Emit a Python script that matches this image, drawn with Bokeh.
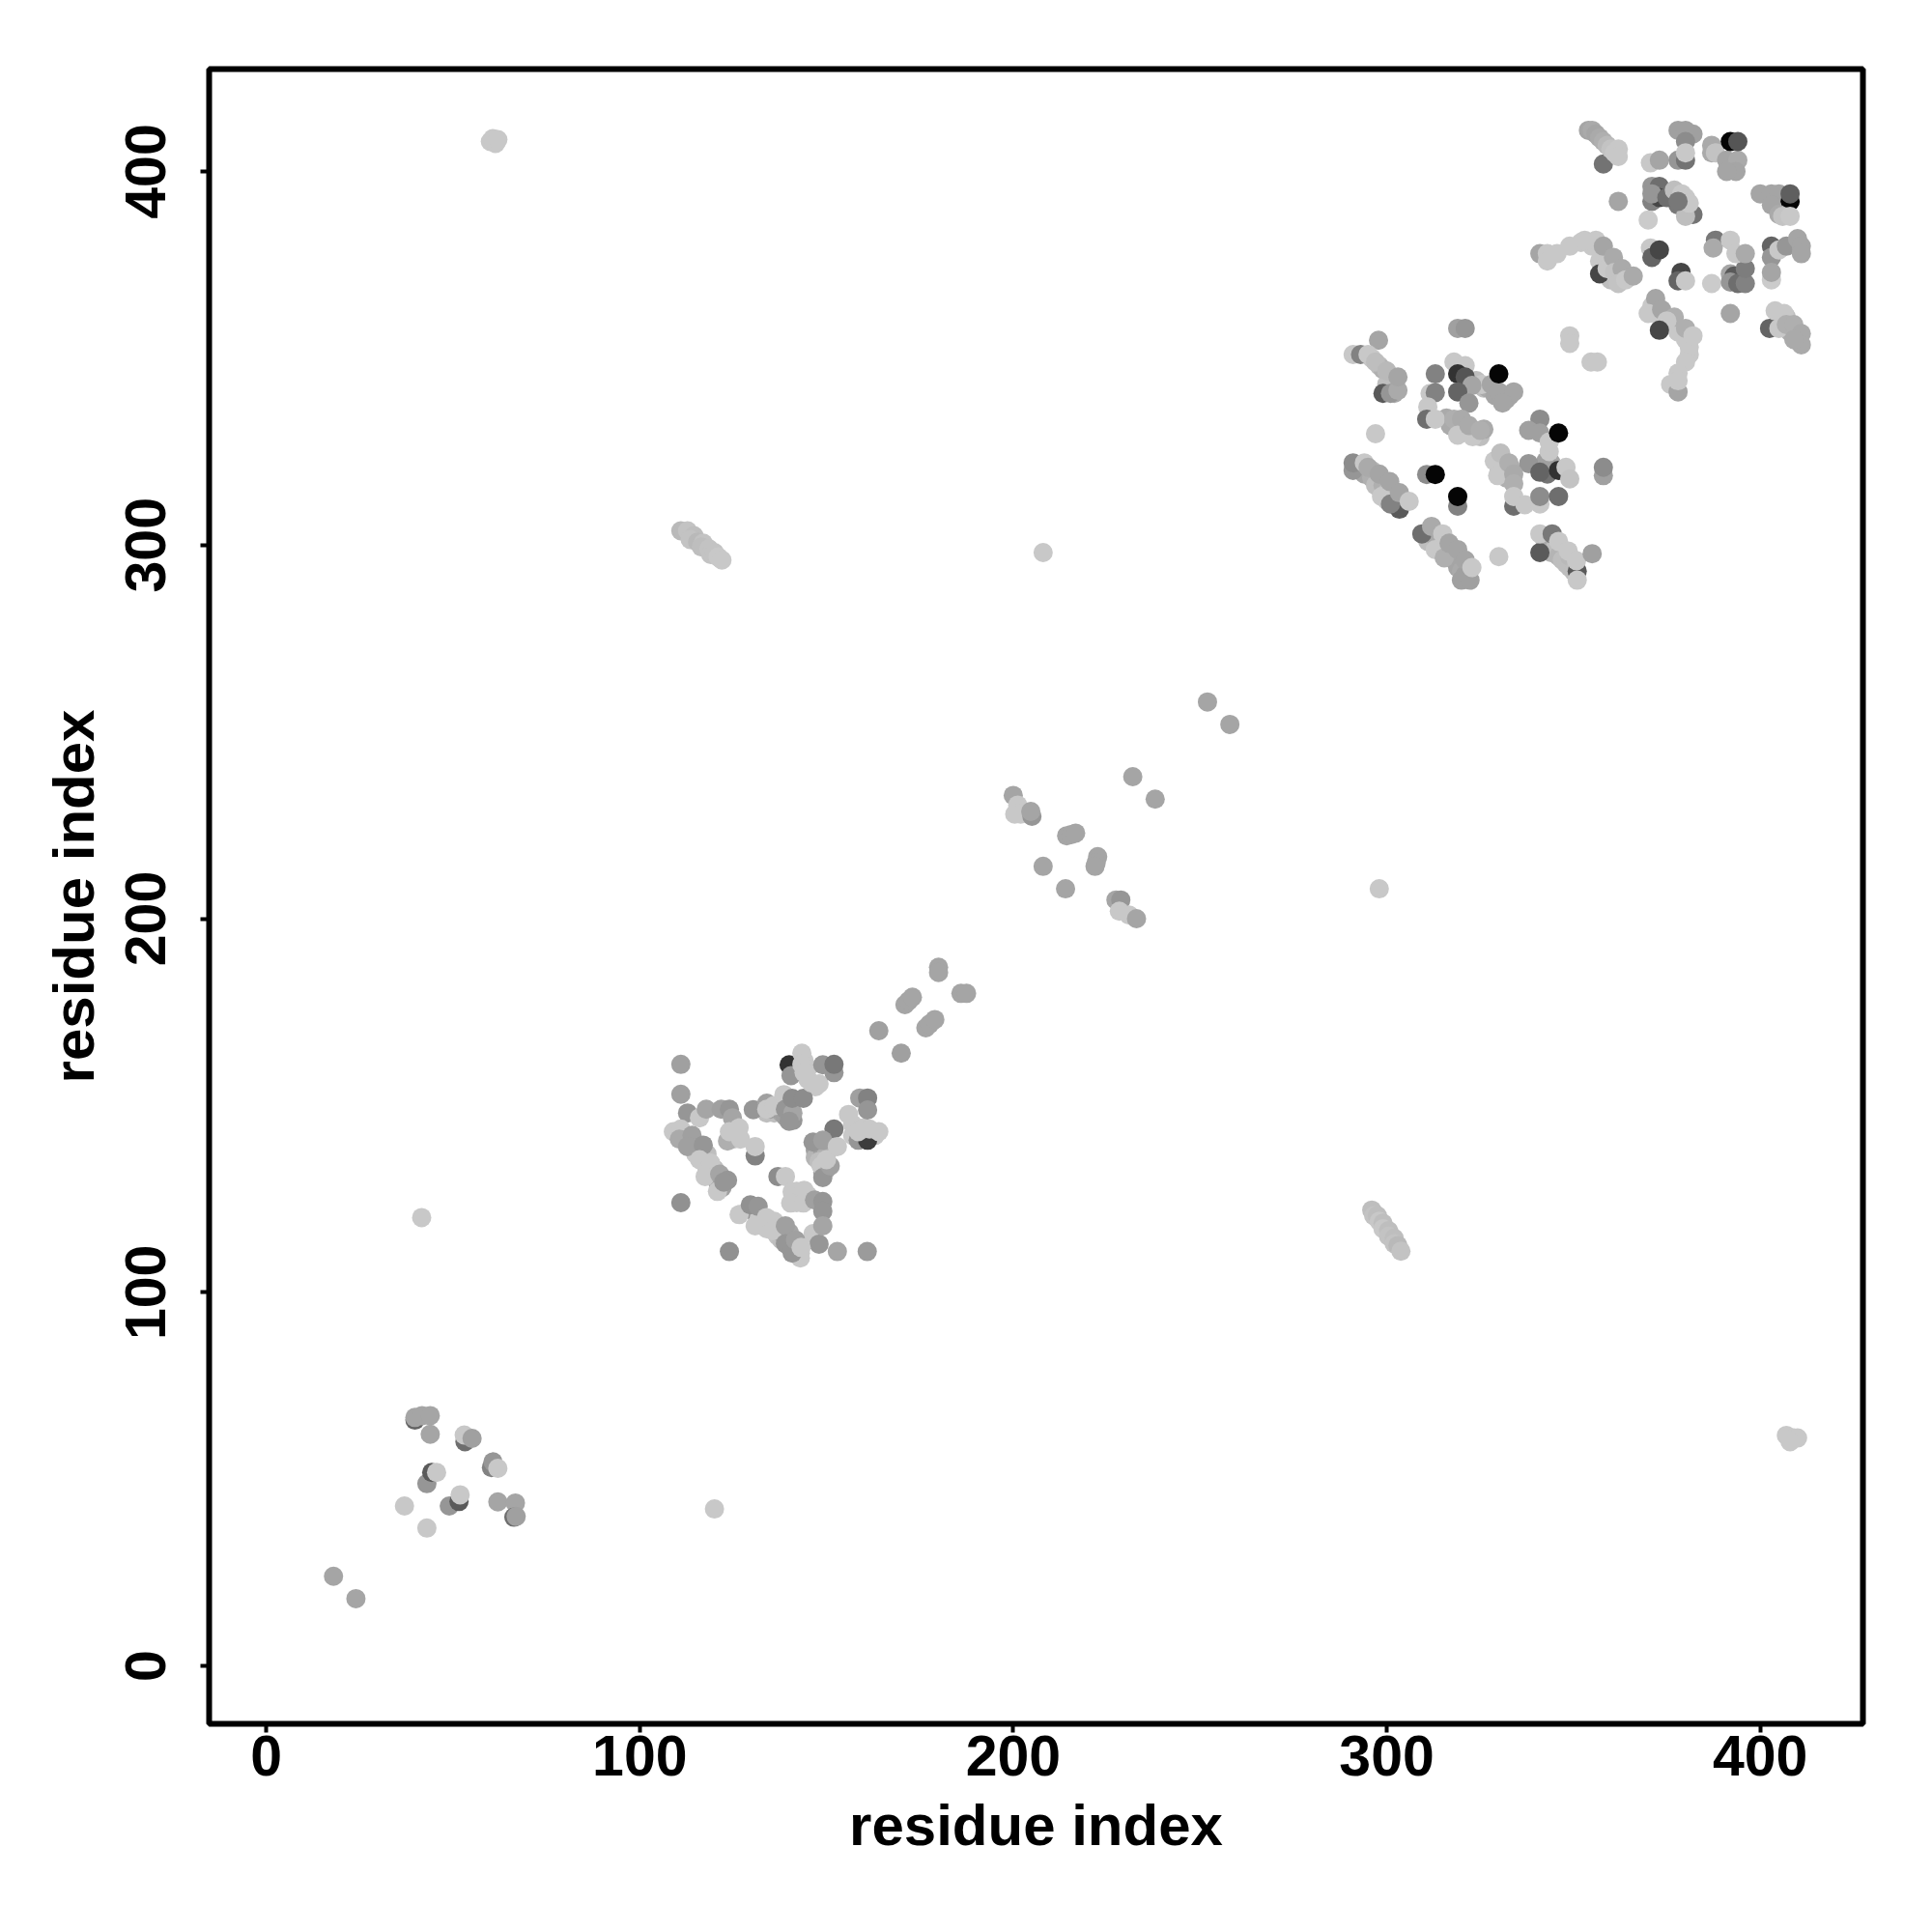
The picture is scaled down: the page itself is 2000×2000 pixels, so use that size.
from bokeh.plotting import figure
from bokeh.models import FixedTicker, Range1d, ColumnDataSource
from bokeh.embed import file_html
from bokeh.resources import INLINE

# (residue x, residue y, grey level 0-255)
cluster_top_right_under = [
(378,394,200),(380,393,200),(380,392,200),(376,393,130),(378,391,120),(380,390,130),
(352,381,200),(355,380,200),(358,378,200),(357,376,200),(359,376,200),(360,373,200),(362,372,200),(360,371,190),
(371,364,200),(372,362,200),(374,360,200),(376,359,200),(378,357,200),(380,355,200),(381,351,200),
(405,360,170),(408,357,175),(410,355,175),(407,361,190),
]
cluster_top_right = [
(354,411,165),(355,411,170),(356,410,165),(358,402,115),(357,409,170),(358,408,175),(359,407,185),(360,406,195),(361,405,200),(362,406,200),(362,404,200),
(370.6,402.3,200),(373,403,165),(378,411,160),(380,411,160),(382,410,160),(380,408,140),(378,403,150),(380,403,115),(380,405,200),
(387,407,170),(387,405,170),(388,405,195),(391,403,165),(394,403,170),(393.5,400,165),(391,400,165),(392,408,5),(394,408,85),
(371,396,150),(373,396,110),(371,392,130),(373,393,70),(371,394,150),(375,393,110),(382,388.5,115),(380,388,190),(377,395,190),(379,394,200),(381,391.5,200),(378,392,120),(362,392,165),(370,387,203),
(400,394,165),(403,394,165),(405,394,165),(408,392,5),(408,394,95),(403,391,165),(405,388.5,170),(406,388,195),(408,388,200),
(341,378,165),(343,378,200),(343,376,200),(345.6,378,200),(349,380,200),(353,381.6,200),(356,381.6,200),(357,372.6,70),(359,374,200),(358,380,165),(360.7,377,170),(361,373,195),(363,374,170),(362,370,195),(364,371,200),(366,372,170),
(370.6,379.5,200),(371,377,100),(373,379,70),(378.8,373,70),(378,370.7,100),(380,370.7,200),(387,370,203),
(388,381.6,120),(387.4,379.5,170),(392,381.6,200),(392,372.6,165),(393,372,90),(392,370.4,150),(394,370,110),(396,370,130),(396,374,125),(393.5,378,200),(396,378,170),
(403,380,100),(403,377,150),(405,379,200),(407,380,150),(410,382,165),(411,380,165),(411,378,165),(403,371,203),(403,373,165),
(372,366,165),(370,362,200),(373.6,363,165),(377,361,175),(375,360,200),(373,357.5,70),(380,358,175),(381,353,200),(382,356,200),(380,349,200),(378,346,200),(376,343,200),(378,341,165),(378,344,200),
(349,356,200),(349,354,200),(354.7,349,200),(356.4,349,200),(392,362,165),
(402.5,358,100),(404,362.7,200),(405,358,200),(406.4,362,200),(407,359,175),(409,359,175),(411,356.6,170),(411,353.6,170),(409,355,170),
]
cluster_upper_mid_under = [
(296,350,200),(298,348,190),(299,347,175),(301,344,200),(302,343,190),(300,343,190),(302,340.6,170),
(292,321,170),(293,320,180),(294,319,165),(296,320,185),(296,318,175),(297,316,190),(299,316,175),(300,314,190),(301,315,170),(302,312,180),(304,312,170),(300,312,200),
(311,303,170),(311,301,190),(313,302,170),(314,300,170),(315,299,190),(317,298,170),(316,297,190),(318,296,175),(319,294,165),(320,293,170),(321,292,160),
(342,302,180),(343,300,170),(344,298,180),(345,299,190),(346,297,180),(347,296,190),(348,295,190),(349,294,190),(349,297,185),(350,293,190),
(330,321,170),(331,319,170),(332,318,175),(333,321,165),(331,323,170),(344,322,165),(344,320,160),(343,319,115),
(316,334,170),(317,332,170),(320,331,170),(322,331,175),(325,329,190),(326,331,170),
(324,344,190),(326,342,190),(327,342,170),(329,340,165),(332,339,165),(333,340,165),
]
cluster_upper_mid = [
(297.8,354.8,165),(291,351,200),(293,351,130),(295,351,200),(297,349,190),(299,340.6,90),(301,340.6,150),(300,346.6,185),(303,341.4,170),(303,345,165),
(319,358,160),(321,358,150),(318,349,200),(321,348,200),(313,345.8,130),(319,345.8,50),(321,345,85),(325.4,343,200),(322.8,342.7,165),(328,343,165),(330,341,165),(334,341,165),(331,338,165),(330,345.8,5),
(311.6,340.6,200),(313,340.8,130),(319,341,100),(322,338,150),(311,337,200),(310.7,333.7,110),(313,333.7,200),
(318,333.7,175),(320,333.7,170),(319,329.4,200),(323,329,200),(322,332,170),(325,330.7,175),(297,329.8,200),
(341,333.7,140),(338,330.7,160),(341,330,160),(342.6,322.5,160),(343.5,325,200),(343.5,327.6,200),(346,330,5),
(338,321.8,150),(341,319.5,100),(346,320,50),(348,320.8,200),(349,317.7,195),(358,318.6,160),(358,320.8,140),
(328.8,322.5,200),(329.7,318.6,200),(330.5,324.6,190),(332.7,322,175),(334,319,170),(334,316.4,175),
(334,310.4,110),(334,313,200),(337,310.8,200),(341,311,200),(341,313,140),(346,313,110),
(310.7,318.9,140),(313,318.9,5),(319,310.4,130),(319,313,5),
(291,320,150),(291,322,140),(294,322,200),(295,320.8,170),(298.6,313,200),(298,319,165),(300.8,317,165),(303.4,309.6,90),(301,311,130),(303.4,314,165),(306,311.7,200),
(309.4,303,110),(312,305,170),(313,298.8,200),(315,303,200),(315.4,296.6,175),(316.7,300.5,165),(319,298.8,165),(320,290.6,160),(322.3,290.6,160),(321,296,165),(322.8,294,200),
(341,298,90),(341,303,200),(344.3,303,120),(346,301,200),(348.6,298.4,200),(351,293,90),(351,290.6,200),(350.8,295.8,200),(355,297.7,160),(330,296.9,200),
]
cluster_lower_mid_under = [
(113,140,170),(115,139,165),(115,137,200),(118,137,190),(118,133,200),(120,133,190),(122,130,165),(122,128,160),(121,129,160),
(134,148,190),(136,148,190),(137,150,150),(138,148,165),(139,147,160),(141,146,150),(135,149,160),
(130,122,150),(132,120,200),(133,118,200),(134,117,200),(136,119,200),(137,117,200),(137,115,195),(138,114,190),(138,116,160),(140,116,165),(141,112,160),(142,111,190),(143,110.5,200),
(147,138,160),(148,137,170),(147,136,180),(149,138,160),(150,137,175),(148,135,190),(150,133,165),(149,132,165),
(157,145,200),(160,144,200),(162,142,200),(163,142,200),(157,142,200),
(144,162,200),(145,160,200),(145,157,200),(147,155,200),(125,144,200),(126,142,200),(125,141,200),
(142,127,200),(142,124,200),(145,126,200),
]
cluster_lower_mid = [
(164,170,160),(170,164,160),(111,161,160),(111,153,160),(112.8,148,150),(116,146.7,200),(117.8,149,165),(121.8,149,160),(124,149,150),(124.8,146.7,165),
(109,143,200),(111,143.7,200),(110.6,141,170),(114,142,160),(112.8,139,160),(117,139.4,150),(116,135.5,200),(119,134.6,200),(117.5,131,200),(121.4,131.6,165),(123.5,130,150),(120.8,127,200),(122.5,129.5,150),
(123.5,140.5,175),(124,143,200),(126.6,144,200),(127,141,200),(130.9,136.5,130),(130.9,139,200),(111,124,145),
(130.4,148.9,150),(134,150.6,160),(134,149,200),(136,150,200),(138.6,152.9,200),(139,149,150),(141,148,165),(140,145.8,150),(140.8,151.9,140),(143.8,151.9,140),
(140,160.9,50),(140.5,158,150),(143.4,164,200),(143.4,161,200),(144,158.8,200),(146,156,200),(148,155.8,200),(152,158.8,150),(149,160.9,150),(152,161,120),
(158.9,152,160),(161,152,130),(161,148.8,150),(158.5,140.7,150),(161,140.7,60),(155.9,147.6,200),(158.5,143,200),(161.5,143.7,200),(164,143,200),
(152,143.7,120),(146.4,140.2,150),(149,140.7,160),(148.6,133.8,200),(149,130.7,150),(151,133.8,160),(150,135.5,200),(152.9,139,200),
(137,131,140),(139,131,200),(140.8,126.9,200),(144,127.3,200),(140.4,123.9,200),(143.8,123.9,200),(146.8,124.7,160),(149,124.3,150),(149,121.7,150),(146.4,115.7,200),(149,117.8,165),(148,112.9,150),
(152.9,110.9,165),(160.9,110.9,155),(124,110.9,145),
(126.6,120.8,200),(129.6,123.4,145),(131.7,123,150),(130.9,117.8,200),(133.9,120,200),(135.6,116.5,200),(139,117.8,160),(139,113,150),(143,109.2,200),(140.8,110.5,150),(141.7,114,160),(143.2,112,200),
]
cluster_bottom_left = [
(18,24,165),(24,18,165),(37,42.8,200),(43,36.9,200),
(39.8,65.8,100),(39.8,66.5,165),(41.7,67,165),(43.9,67,165),(43.9,62,165),
(53.2,60,110),(53,61.8,200),(55.1,60.9,160),(60.3,53.1,130),(60.7,54.6,150),(62,52.9,200),
(43,48.8,150),(44.3,51.8,90),(45.6,51.8,200),
(49,42.8,150),(51.6,44,90),(51.9,45.8,200),(62,43.9,165),(66.7,43.6,165),(66.3,39.8,110),(66.9,40,160),
]
cluster_diagonal = [
(252,258,165),(258,252,165),(232,238,165),(238,232,165),(208,214,165),(214,208,165),
(200,233,165),(201.2,230.4,200),(200.4,228,200),(202,228,200),(205,227.4,150),(204.7,228.7,165),
(214.3,222.2,165),(215.5,222.5,165),(216.7,222.9,165),(222.6,216.6,165),(222.2,215,165),(221.9,214,165),
(227.5,205,165),(228.8,205,150),(228.4,202,200),(231,201,200),(233,200,165),
(171,177,165),(172,178,165),(173,179,165),(176.6,170.8,165),(177.6,171.8,165),(179,173,165),
(180,187,165),(180,185.6,165),(186,180,165),(187.5,180,165),
]
cluster_off_diagonal = [
(41.6,120,200),(120,42,200),(60,408,200),(60.7,408.8,200),(61.4,407.5,200),(62,408.5,200),
(407,61.7,200),(409,61,200),(410,61,200),(408,60,200),(208,298,200),(298,208,200),
]
strand_upper_left = [
(111,303.8,185),(112.8,303.8,195),(114.5,302.5,190),(113.5,301.5,195),(115.5,300.8,185),(117,300.5,195),(116.5,299.5,190),(118.5,299,195),(119,297.5,195),(120,298,195),(121,296.8,200),(122,296,200),
]
strand_lower_right = [
(296,122,190),(296.5,120.5,195),(297.5,120.5,190),(298,119,200),(299,118.5,190),(299,117,200),(300.5,116.5,190),(300.5,115,195),(302,114.5,190),(302,113,195),(303,112.5,185),(303.8,111,195),
]
tick_values = [0, 100, 200, 300, 400]
axis_title = "residue index"

all_pts = (cluster_off_diagonal + strand_upper_left + strand_lower_right
           + cluster_diagonal + cluster_bottom_left
           + cluster_lower_mid_under + cluster_lower_mid
           + cluster_upper_mid_under + cluster_upper_mid
           + cluster_top_right_under + cluster_top_right)
src = ColumnDataSource(dict(
    x=[a for a, _, _ in all_pts],
    y=[b for _, b, _ in all_pts],
    c=["#%02x%02x%02x" % (g, g, g) for _, _, g in all_pts],
))

p = figure(frame_width=1712, frame_height=1713, output_backend="svg", toolbar_location=None,
           x_range=Range1d(-15.3, 427.5), y_range=Range1d(-15.5, 427.4),
           min_border_left=216, min_border_top=71, min_border_right=40, min_border_bottom=150,
           background_fill_color="white", border_fill_color="white")
p.scatter("x", "y", source=src, size=20, fill_color="c", line_color=None)
p.grid.visible = False
p.outline_line_color = "black"
p.outline_line_width = 6
for ax in (p.xaxis[0], p.yaxis[0]):
    ax.ticker = FixedTicker(ticks=tick_values)
    ax.axis_label = axis_title
    ax.axis_line_color = None
    ax.major_tick_line_color = "black"
    ax.major_tick_line_width = 4
    ax.major_tick_in = 0
    ax.major_tick_out = 9
    ax.minor_tick_line_color = None
    ax.major_label_text_font = "Liberation Sans"
    ax.major_label_text_font_style = "bold"
    ax.major_label_text_font_size = "59px"
    ax.major_label_text_color = "black"
    ax.axis_label_text_font = "Liberation Sans"
    ax.axis_label_text_font_style = "bold"
    ax.axis_label_text_font_size = "60px"
    ax.axis_label_text_color = "black"
p.xaxis[0].major_label_standoff = 3
p.xaxis[0].axis_label_standoff = 15
p.yaxis[0].major_label_orientation = "vertical"
p.yaxis[0].major_label_standoff = 36
p.yaxis[0].axis_label_standoff = 18

open("out.html", "w").write(file_html(p, INLINE))
